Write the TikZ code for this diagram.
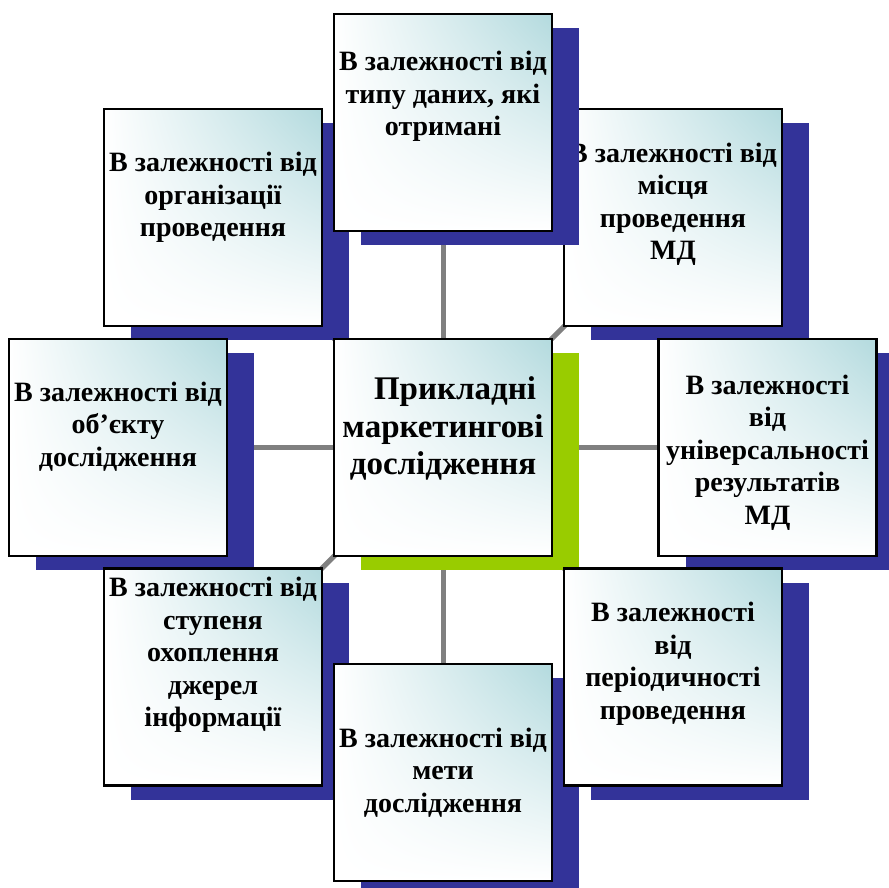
\documentclass[tikz,border=0pt]{standalone}
\usepackage{fontspec}
\setmainfont{Liberation Serif}
\usetikzlibrary{shadings,shadows,backgrounds}

\definecolor{shadowblue}{HTML}{333399}
\definecolor{shadowgreen}{HTML}{99CC00}
\definecolor{boxcyan}{HTML}{B3DADE}

\begin{document}
\begin{tikzpicture}[
  x=1pt, y=-1pt,
  card/.style={draw=black, line width=2.5pt, minimum width=218pt, minimum height=217pt, inner sep=0pt,
    shade, upper right=boxcyan, upper left=white, lower left=white, lower right=white,
    drop shadow={shadow xshift=27pt, shadow yshift=-14pt, fill=shadowblue, opacity=1}},
  maincard/.style={card, drop shadow={shadow xshift=27pt, shadow yshift=-14pt, fill=shadowgreen, opacity=1}},
  txt/.style={align=center, font=\fontsize{28}{32.5}\selectfont\bfseries},
  maintxt/.style={align=center, font=\fontsize{33}{37.5}\selectfont\bfseries},
  link/.style={draw=gray, line width=5pt},
]

\useasboundingbox (0,0) rectangle (889,888);

\node [card, label={[txt, yshift=20pt]center:{В залежності від\\організації\\проведення}}] (org) at (213,217.5) {};
\node [card, label={[txt, yshift=13pt]center:{В залежності від\\місця\\проведення\\МД}}] (mis) at (673,217.5) {};
\node [card, label={[txt, yshift=26pt]center:{В залежності від\\типу даних, які\\отримані}}] (tip) at (443,122.5) {};
\node [card, label={[txt, yshift=21pt]center:{В залежності від\\об’єкту\\дослідження}}] (obj) at (118,447.5) {};
\node [maincard, label={[maintxt, yshift=19pt]center:{\hspace*{24pt}Прикладні\\маркетингові\\дослідження}}] (main) at (443,447.5) {};
\node [card, label={[txt, yshift=-5pt]center:{В залежності\\від\\універсальності\\результатів\\МД}}] (univ) at (767.5,447.5) {};
\node [card, label={[txt, yshift=22pt]center:{В залежності від\\ступеня\\охоплення\\джерел\\інформації}}] (stup) at (213,677) {};
\node [card, label={[txt, yshift=0pt]center:{В залежності від\\мети\\дослідження}}] (meta) at (443,772.5) {};
\node [card, label={[txt, yshift=13pt]center:{В залежності\\від\\періодичності\\проведення}}] (per) at (673,677) {};

\begin{scope}[on background layer]
\draw [link] (main.center) -- (org.center);
\draw [link] (main.center) -- (tip.center);
\draw [link] (main.center) -- (mis.center);
\draw [link] (main.center) -- (obj.center);
\draw [link] (main.center) -- (univ.center);
\draw [link] (main.center) -- (stup.center);
\draw [link] (main.center) -- (meta.center);
\draw [link] (main.center) -- (per.center);
\end{scope}

\end{tikzpicture}
\end{document}
